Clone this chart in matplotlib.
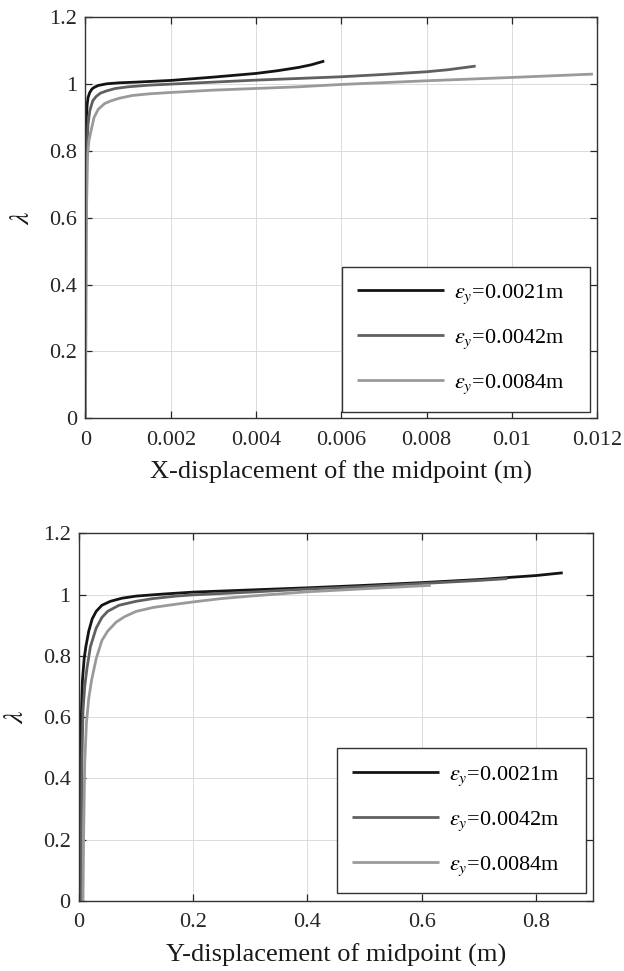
import matplotlib
matplotlib.use("Agg")
import matplotlib.pyplot as plt

# ---------------- data ----------------
labels = [r'$\varepsilon_y$=0.0021m', r'$\varepsilon_y$=0.0042m', r'$\varepsilon_y$=0.0084m']
colors = ['#141414', '#606060', '#9a9a9a']

# top: X-displacement of midpoint
x_top_1 = [0, 0.000005, 0.00001, 0.00002, 0.00004, 0.00006, 0.0001, 0.00015, 0.0002, 0.0003,
           0.0005, 0.0008, 0.0012, 0.002, 0.003, 0.004, 0.0045, 0.005, 0.0053, 0.0056]
l_top_1 = [0, 0.6, 0.8, 0.9, 0.94, 0.96, 0.975, 0.985, 0.99, 0.996,
           1.001, 1.004, 1.006, 1.011, 1.021, 1.032, 1.040, 1.050, 1.058, 1.069]
x_top_2 = [0, 0.00001, 0.00003, 0.00006, 0.0001, 0.00017, 0.00025, 0.00035, 0.0005, 0.0007,
           0.001, 0.0015, 0.002, 0.003, 0.004, 0.005, 0.006, 0.007, 0.008, 0.0085, 0.00915]
l_top_2 = [0, 0.55, 0.8, 0.88, 0.92, 0.95, 0.963, 0.973, 0.98, 0.987,
           0.992, 0.997, 1.0, 1.006, 1.012, 1.017, 1.022, 1.029, 1.037, 1.043, 1.054]
x_top_3 = [0, 0.00002, 0.00005, 0.00008, 0.00013, 0.0002, 0.0003, 0.00045, 0.0006, 0.0008,
           0.0011, 0.0015, 0.002, 0.003, 0.004, 0.005, 0.006, 0.008, 0.01, 0.0119]
l_top_3 = [0, 0.6, 0.79, 0.83, 0.86, 0.9, 0.925, 0.942, 0.95, 0.958,
           0.966, 0.971, 0.975, 0.982, 0.987, 0.992, 0.999, 1.010, 1.020, 1.030]

# bottom: Y-displacement of midpoint
x_bot_1 = [0, 0.002, 0.003, 0.004, 0.006, 0.009, 0.012, 0.017, 0.023, 0.03, 0.04, 0.055,
           0.075, 0.1, 0.15, 0.2, 0.3, 0.4, 0.5, 0.6, 0.7, 0.8, 0.847]
l_bot_1 = [0, 0.2, 0.45, 0.6, 0.72, 0.79, 0.83, 0.88, 0.92, 0.945, 0.965, 0.978,
           0.988, 0.995, 1.002, 1.008, 1.015, 1.022, 1.030, 1.039, 1.049, 1.062, 1.071]
x_bot_2 = [0.003, 0.004, 0.005, 0.007, 0.01, 0.014, 0.02, 0.03, 0.04, 0.05, 0.07, 0.1,
           0.13, 0.17, 0.2, 0.3, 0.4, 0.5, 0.6, 0.7, 0.75]
l_bot_2 = [0, 0.2, 0.45, 0.62, 0.7, 0.76, 0.83, 0.89, 0.925, 0.945, 0.965, 0.978,
           0.987, 0.995, 0.999, 1.008, 1.018, 1.026, 1.036, 1.046, 1.052]
x_bot_3 = [0.007, 0.008, 0.01, 0.013, 0.017, 0.022, 0.03, 0.04, 0.05, 0.065, 0.08, 0.1,
           0.13, 0.16, 0.2, 0.25, 0.3, 0.4, 0.5, 0.616]
l_bot_3 = [0, 0.2, 0.45, 0.58, 0.66, 0.72, 0.79, 0.85, 0.88, 0.91, 0.928, 0.945,
           0.958, 0.966, 0.976, 0.987, 0.995, 1.009, 1.019, 1.030]

y_ticks = [0, 0.2, 0.4, 0.6, 0.8, 1.0, 1.2]
y_ticklabels = ['0', '0.2', '0.4', '0.6', '0.8', '1', '1.2']
x_top_ticks = [0, 0.002, 0.004, 0.006, 0.008, 0.01, 0.012]
x_top_ticklabels = ['0', '0.002', '0.004', '0.006', '0.008', '0.01', '0.012']
x_bot_ticks = [0, 0.2, 0.4, 0.6, 0.8]
x_bot_ticklabels = ['0', '0.2', '0.4', '0.6', '0.8']

# ---------------- style ----------------
plt.rcParams['font.family'] = ['Liberation Serif', 'DejaVu Serif']
plt.rcParams['mathtext.fontset'] = 'stix'

fig = plt.figure(figsize=(6.24, 9.71), dpi=100)
ax1 = fig.add_axes([0.137, 0.5692, 0.820, 0.4130])
ax2 = fig.add_axes([0.1266, 0.0721, 0.8237, 0.3787])


def style(ax, xt, xtl, xlim, xlabel):
    ax.set_xlim(*xlim)
    ax.set_ylim(0, 1.2)
    ax.set_xticks(xt)
    ax.set_xticklabels(xtl)
    ax.set_yticks(y_ticks)
    ax.set_yticklabels(y_ticklabels)
    ax.grid(True, color='#d6d6d6', linewidth=0.6, linestyle='-')
    ax.set_axisbelow(True)
    ax.tick_params(direction='in', top=True, right=True, length=5, width=0.9,
                   labelsize=16, colors='#262626')
    ax.tick_params(axis='x', pad=9)
    ax.tick_params(axis='y', pad=6)
    for s in ax.spines.values():
        s.set_color('#333333')
        s.set_linewidth(1.0)
    ax.set_xlabel(xlabel, fontsize=19, color='#1a1a1a', labelpad=8)
    ax.set_ylabel(r'$\lambda$', fontsize=20, color='#1a1a1a', labelpad=10)


for xs, ls, c, lab in [(x_top_1, l_top_1, colors[0], labels[0]),
                       (x_top_2, l_top_2, colors[1], labels[1]),
                       (x_top_3, l_top_3, colors[2], labels[2])]:
    ax1.plot(xs, ls, color=c, lw=2.0, label=lab, solid_capstyle='butt')
style(ax1, x_top_ticks, x_top_ticklabels, (0, 0.012), 'X-displacement of the midpoint (m)')

for xs, ls, c, lab in [(x_bot_1, l_bot_1, colors[0], labels[0]),
                       (x_bot_2, l_bot_2, colors[1], labels[1]),
                       (x_bot_3, l_bot_3, colors[2], labels[2])]:
    ax2.plot(xs, ls, color=c, lw=2.0, label=lab, solid_capstyle='butt')
style(ax2, x_bot_ticks, x_bot_ticklabels, (0, 0.9), 'Y-displacement of midpoint (m)')

for ax, anchor in ((ax1, (0.501, 0.0165, 0.4853, 0.3)),
                   (ax2, (0.501, 0.0209, 0.4847, 0.3))):
    leg = ax.legend(loc='lower right', bbox_to_anchor=anchor, mode='expand',
                    fontsize=16, frameon=True, fancybox=False,
                    edgecolor='#333333', framealpha=1, handlelength=3.9,
                    handletextpad=0.45, labelspacing=0.97, borderpad=0.7,
                    borderaxespad=0.0)
    leg.get_frame().set_linewidth(1.0)

fig.savefig('out.png', dpi=100)
